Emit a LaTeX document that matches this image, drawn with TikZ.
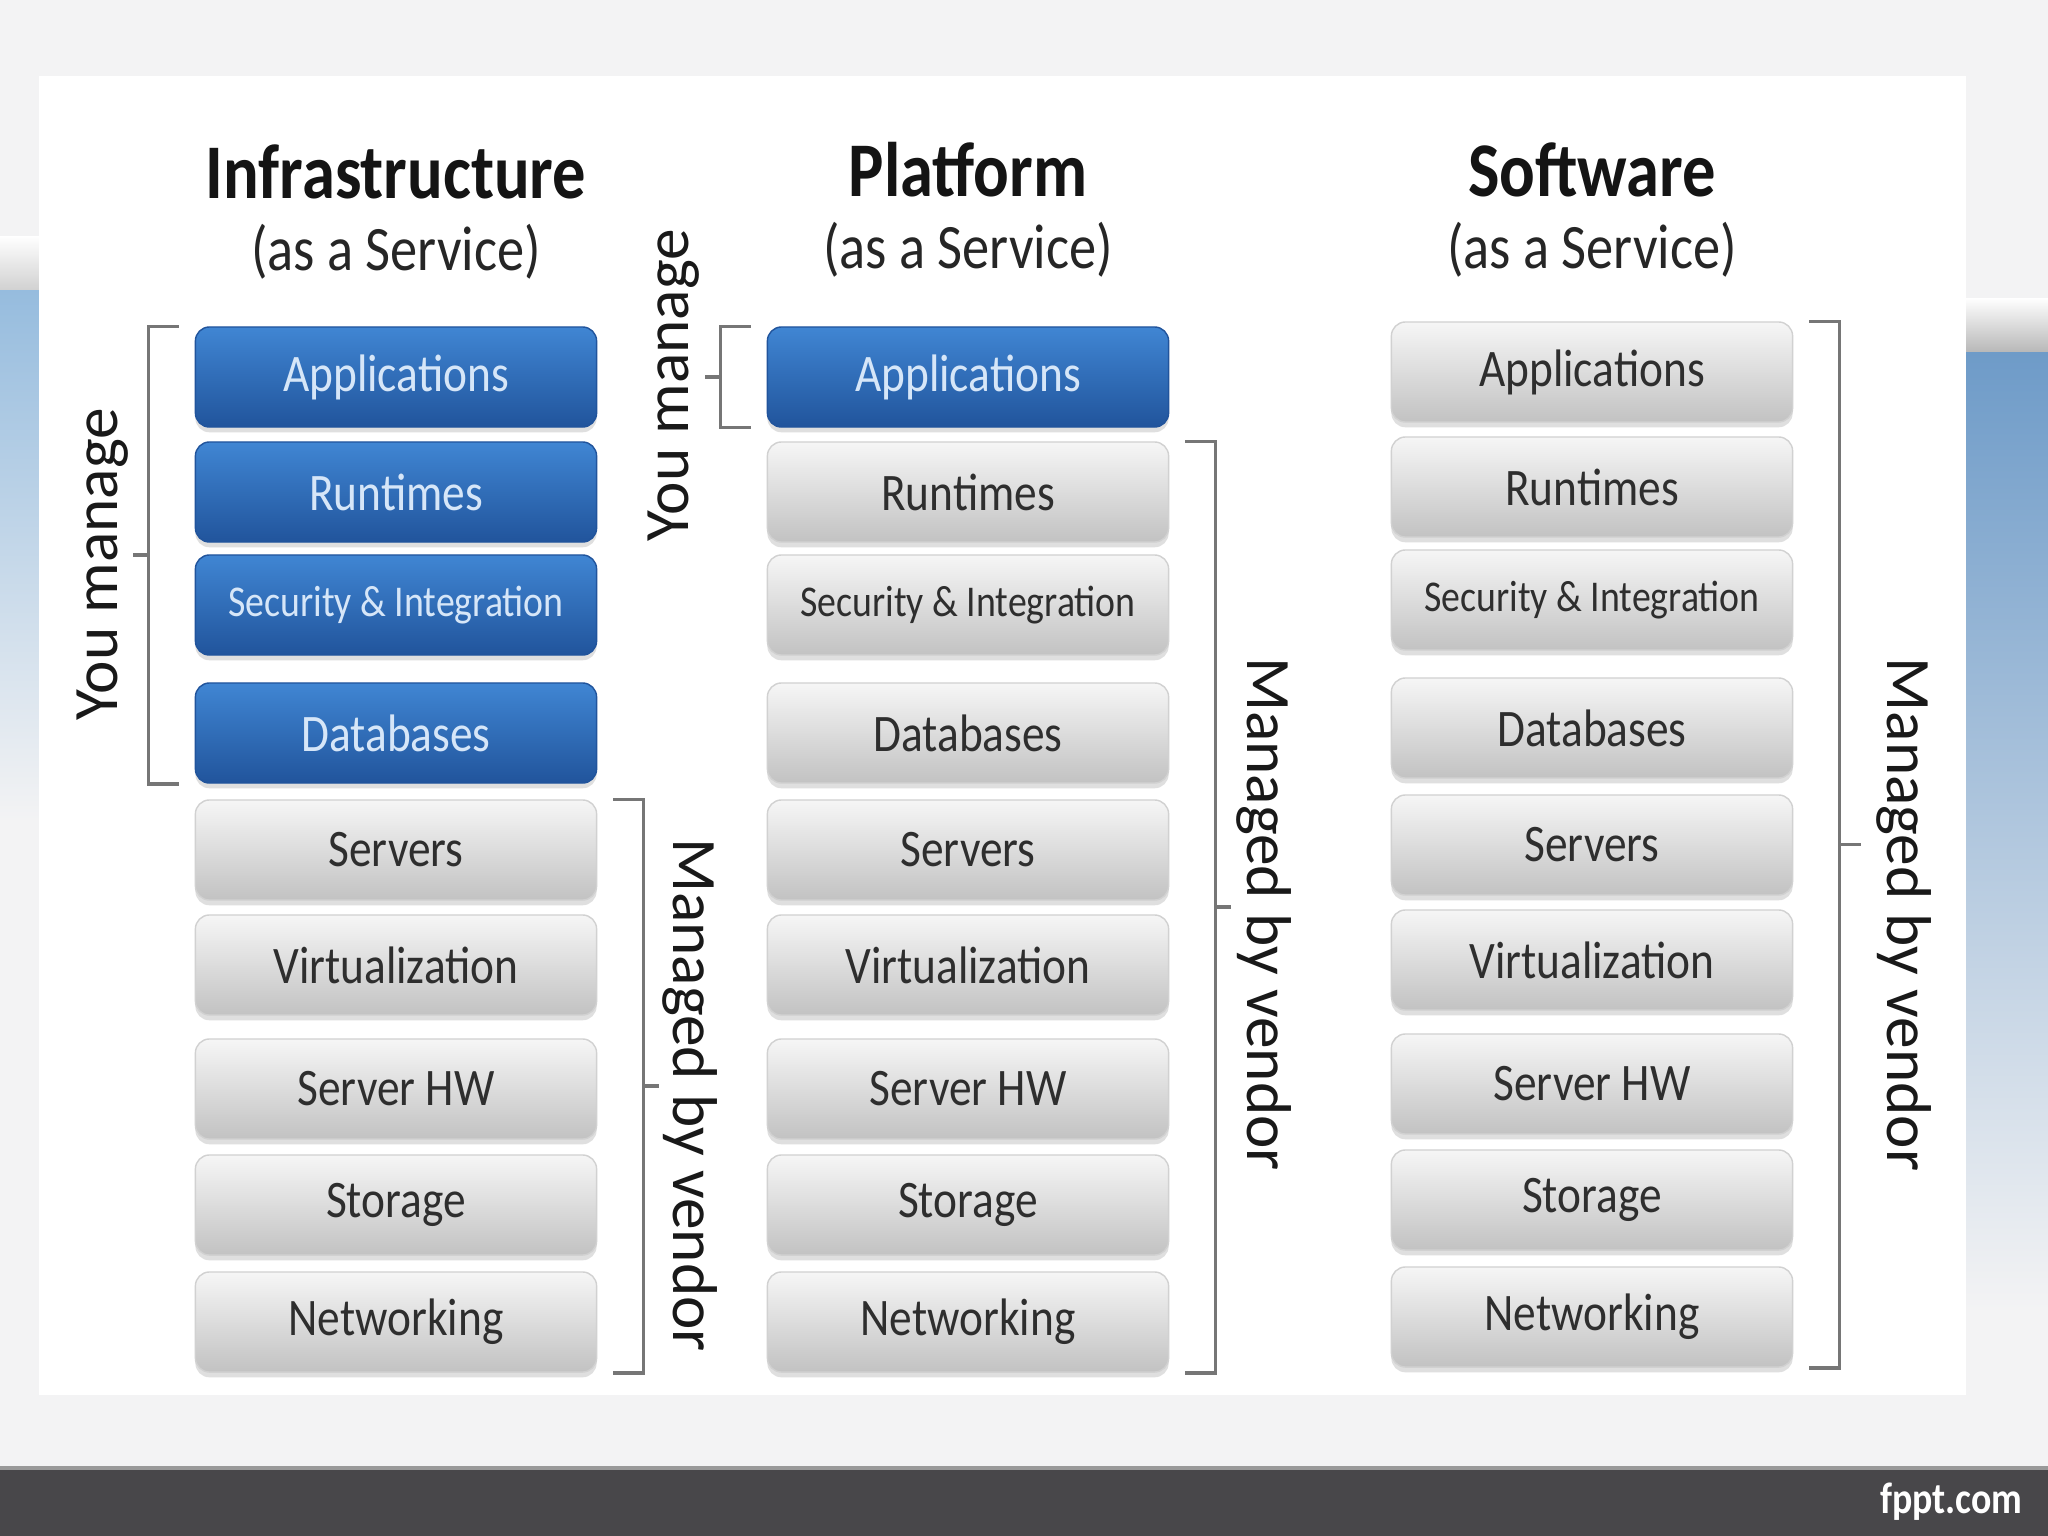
\documentclass[tikz,border=0pt]{standalone}
\usepackage{fontspec}
\setmainfont{Carlito}[FakeStretch=0.86]
\newfontfamily\sidefont{Carlito}
\usetikzlibrary{positioning, shadows, calc}
\definecolor{layerbluetop}{RGB}{64, 134, 211}
\definecolor{layerbluebot}{RGB}{33, 84, 156}
\definecolor{layerbluetext}{RGB}{214, 230, 248}
\definecolor{layergraytop}{RGB}{246, 246, 246}
\definecolor{layergraybot}{RGB}{194, 194, 194}
\definecolor{bracketgray}{RGB}{118, 118, 118}
\definecolor{slidegray}{RGB}{243, 243, 244}
\definecolor{footbar}{RGB}{72, 71, 74}
\definecolor{swooshblue}{RGB}{150, 188, 222}
\definecolor{swooshdeep}{RGB}{110, 155, 200}

\begin{document}
\begin{tikzpicture}[
    x=0.01cm, y=-0.01cm,
    layer/.style={rectangle, rounded corners=4pt, minimum width=4.01cm, minimum height=1.0cm, inner sep=0pt, drop shadow={shadow xshift=0pt, shadow yshift=-1.5pt, opacity=0.25}, font=\fontsize{15}{18}\selectfont},
    youlayer/.style={layer, draw=layerbluebot, top color=layerbluetop, bottom color=layerbluebot, text=layerbluetext},
    vendorlayer/.style={layer, draw=black!18, top color=layergraytop, bottom color=layergraybot, text=black!82},
    smalltext/.style={font=\fontsize{12.5}{15}\selectfont},
    coltitle/.style={font=\bfseries\fontsize{22}{26}\selectfont, text=black!92},
    colsub/.style={font=\fontsize{18}{22}\selectfont, text=black!85},
    brk/.style={draw=bracketgray, line width=1pt},
    sidelbl/.style={font=\sidefont\fontsize{18}{22}\selectfont, text=black!90}
]
\useasboundingbox (0,0) rectangle (2048,1536);
\fill[slidegray] (0,0) rectangle (2048,1536);
\shade[top color=white, bottom color=black!18] (0,236) rectangle (39,290);
\shade[top color=swooshblue, bottom color=slidegray] (0,290) rectangle (39,820);
\shade[top color=white, bottom color=black!28] (1966,298) rectangle (2048,352);
\shade[top color=swooshdeep, bottom color=slidegray] (1966,352) rectangle (2048,1310);
\fill[white] (39,76) rectangle (1966,1395);
\fill[footbar] (0,1468) rectangle (2048,1536);
\draw[black!40, line width=1pt] (0,1468) -- (2048,1468);
\node[anchor=east, text=white, font=\bfseries\fontsize{12.5}{15}\selectfont] (brand) at (2035,1502) {fppt.com};

\node[coltitle] (iaas) at (396,172) {Infrastructure};
\node[colsub] (iaassub) at (396,252) {(as a Service)};
\node[coltitle] (paas) at (968,170) {Platform};
\node[colsub] (paassub) at (968,250) {(as a Service)};
\node[coltitle] (saas) at (1592,170) {Software};
\node[colsub] (saassub) at (1592,250) {(as a Service)};

\node[youlayer] (i1) at (396,377) {Applications};
\node[youlayer] (i2) at (396,492) {Runtimes};
\node[youlayer, smalltext] (i3) at (396,605) {Security \& Integration};
\node[youlayer] (i4) at (396,733) {Databases};
\node[vendorlayer] (i5) at (396,850) {Servers};
\node[vendorlayer] (i6) at (396,965) {Virtualization};
\node[vendorlayer] (i7) at (396,1089) {Server HW};
\node[vendorlayer] (i8) at (396,1205) {Storage};
\node[vendorlayer] (i9) at (396,1322) {Networking};

\node[youlayer] (p1) at (968,377) {Applications};
\node[vendorlayer] (p2) at (968,492) {Runtimes};
\node[vendorlayer, smalltext] (p3) at (968,605) {Security \& Integration};
\node[vendorlayer] (p4) at (968,733) {Databases};
\node[vendorlayer] (p5) at (968,850) {Servers};
\node[vendorlayer] (p6) at (968,965) {Virtualization};
\node[vendorlayer] (p7) at (968,1089) {Server HW};
\node[vendorlayer] (p8) at (968,1205) {Storage};
\node[vendorlayer] (p9) at (968,1322) {Networking};

\node[vendorlayer] (s1) at (1592,372) {Applications};
\node[vendorlayer] (s2) at (1592,487) {Runtimes};
\node[vendorlayer, smalltext] (s3) at (1592,600) {Security \& Integration};
\node[vendorlayer] (s4) at (1592,728) {Databases};
\node[vendorlayer] (s5) at (1592,845) {Servers};
\node[vendorlayer] (s6) at (1592,960) {Virtualization};
\node[vendorlayer] (s7) at (1592,1084) {Server HW};
\node[vendorlayer] (s8) at (1592,1200) {Storage};
\node[vendorlayer] (s9) at (1592,1317) {Networking};

\draw[brk] ($(i1.north west)+(-16,0)$) -| ($(i4.south west)+(-46,0)$) -- ++(30,0);
\draw[brk] ($(i1.north west)!0.5!(i4.south west)+(-46,0)$) -- ++(-16,0);
\node[sidelbl, rotate=90] (imanage) at ($(i1.north west)!0.5!(i4.south west)+(-92,9)$) {You manage};
\draw[brk] ($(i5.north east)+(16,0)$) -| ($(i9.south east)+(46,0)$) -- ++(-30,0);
\draw[brk] ($(i5.north east)!0.5!(i9.south east)+(46,0)$) -- ++(16,0);
\node[sidelbl, rotate=-90] (ivendor) at ($(i5.north east)!0.5!(i9.south east)+(93,9)$) {Managed by vendor};

\draw[brk] ($(p1.north west)+(-16,0)$) -| ($(p1.south west)+(-46,0)$) -- ++(30,0);
\draw[brk] ($(p1.west)+(-46,0)$) -- ++(-16,0);
\node[sidelbl, rotate=90] (pmanage) at ($(p1.west)+(-93,8)$) {You manage};
\draw[brk] ($(p2.north east)+(16,0)$) -| ($(p9.south east)+(46,0)$) -- ++(-30,0);
\draw[brk] ($(p2.north east)!0.5!(p9.south east)+(46,0)$) -- ++(16,0);
\node[sidelbl, rotate=-90] (pvendor) at ($(p2.north east)!0.5!(p9.south east)+(95,7)$) {Managed by vendor};

\draw[brk] ($(s1.north east)+(16,0)$) -| ($(s9.south east)+(46,0)$) -- ++(-30,0);
\draw[brk] ($(s1.north east)!0.5!(s9.south east)+(46,0)$) -- ++(22,0);
\node[sidelbl, rotate=-90] (svendor) at ($(s1.north east)!0.5!(s9.south east)+(111,70)$) {Managed by vendor};
\end{tikzpicture}
\end{document}
